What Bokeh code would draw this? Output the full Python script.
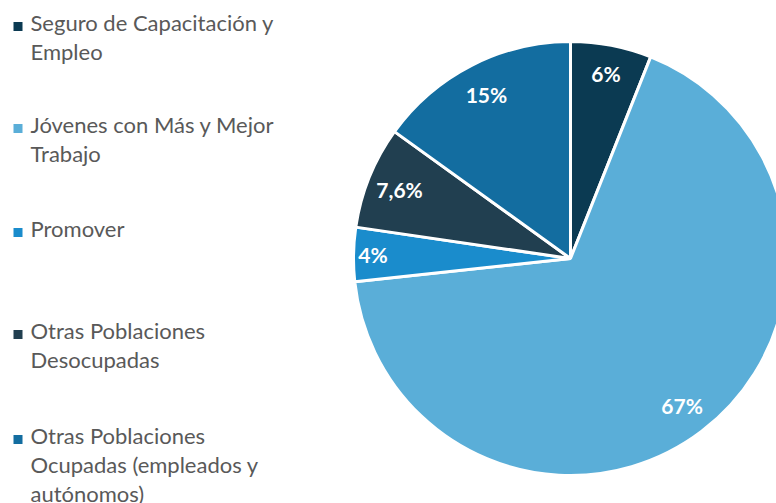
import math
from bokeh.plotting import figure
from bokeh.models import Range1d, ColumnDataSource
from bokeh.core.properties import value
from bokeh.embed import file_html
from bokeh.resources import INLINE

# ---- data ----
categories = [
    "Seguro de Capacitación y\nEmpleo",
    "Jóvenes con Más y Mejor\nTrabajo",
    "Promover",
    "Otras Poblaciones\nDesocupadas",
    "Otras Poblaciones\nOcupadas (empleados y\nautónomos)",
]
shares = [6, 67, 4, 7.6, 15]
share_labels = ["6%", "67%", "4%", "7,6%", "15%"]
colors = ["#0b3a52", "#5aaed8", "#1a8ccc", "#213f50", "#136da0"]
label_radius_frac = [0.87, 0.85, 0.91, 0.85, 0.85]

W, H = 776, 503
p = figure(width=W, height=H, output_backend="svg", toolbar_location=None,
           x_range=Range1d(0, W), y_range=Range1d(0, H),
           min_border=0, outline_line_color=None)
p.axis.visible = False
p.grid.visible = False
p.background_fill_color = "white"
p.border_fill_color = "white"

# pie geometry (screen px -> data units are 1:1, y measured from bottom)
cx, cy, R = 570, H - 258, 217
total = sum(shares)
starts, ends, lx, ly = [], [], [], []
cum = 0.0
for i, s in enumerate(shares):
    a0 = math.pi / 2 - 2 * math.pi * cum / total
    cum += s
    a1 = math.pi / 2 - 2 * math.pi * cum / total
    starts.append(a0)
    ends.append(a1)
    mid = (a0 + a1) / 2
    r = R * label_radius_frac[i]
    lx.append(cx + r * math.cos(mid))
    ly.append(cy + r * math.sin(mid))

src = ColumnDataSource(dict(start=starts, end=ends, color=colors,
                            lx=lx, ly=ly, lab=share_labels))
p.wedge(x=cx, y=cy, radius=R, start_angle="start", end_angle="end",
        direction="clock", fill_color="color", line_color="white",
        line_width=3, source=src)
p.text(x="lx", y="ly", text="lab", source=src, text_color="white",
       text_font=value("Lato"), text_font_style="bold", text_font_size="21px",
       text_align="center", text_baseline="middle")

# ---- legend (manual) ----
first_baselines = [30, 132, 236, 338, 443]   # screen y of first line
line_gap = 29
tx, ty, tt, sx, sy = [], [], [], [], []
for i, cat in enumerate(categories):
    base = first_baselines[i]
    for j, line in enumerate(cat.split("\n")):
        tx.append(30)
        ty.append(H - (base - 8 + j * line_gap))
        tt.append(line)
    sx.append(17.5)
    sy.append(H - (base - 4))

p.scatter(x=sx, y=sy, marker="square", size=9, fill_color=colors,
          line_color=None)
p.text(x=tx, y=ty, text=tt, text_color="#595959", text_font=value("Lato"),
       text_font_size="22px", text_align="left", text_baseline="alphabetic")

open("out.html", "w").write(file_html(p, INLINE))
